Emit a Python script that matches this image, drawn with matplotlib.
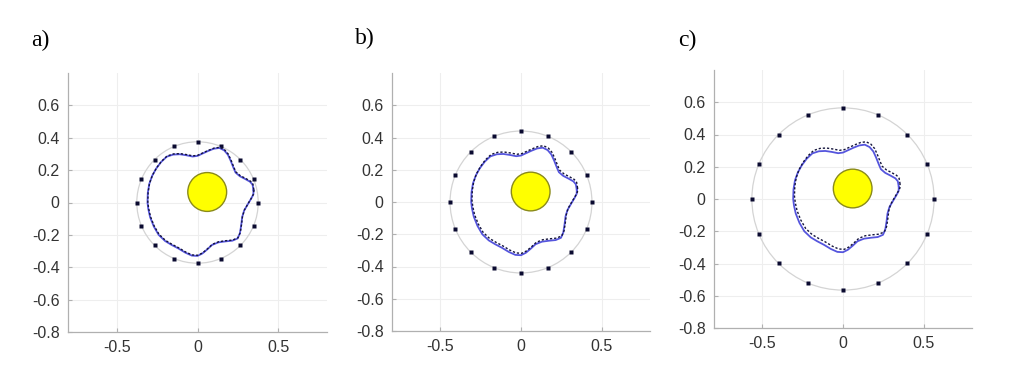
import numpy as np
import matplotlib.pyplot as plt
from matplotlib.patches import Circle

# panel labels
panels = ['a)', 'b)', 'c)']

# sensor ring radius per panel and sensor angles (deg)
ring_radius = [0.375, 0.44, 0.565]
sensor_angles = [0, 22.5, 45, 67.5, 90, 112.5, 135, 157.5,
                 180, 202.5, 225, 247.5, 270, 292.5, 315, 337.5]

# inclusion (yellow disc)
disc_x, disc_y, disc_r = 0.06, 0.065, 0.12

# boundary curve (solid, blue)
curve_x = [0.346, 0.340, 0.325, 0.295, 0.262, 0.235, 0.222, 0.205, 0.188, 0.165,
           0.135, 0.100, 0.065, 0.030, 0.000, -0.030, -0.070, -0.110, -0.150, -0.190,
           -0.225, -0.255, -0.280, -0.298, -0.307, -0.309, -0.304, -0.293, -0.270, -0.240,
           -0.200, -0.160, -0.118, -0.075, -0.035, 0.000, 0.030, 0.060, 0.090, 0.130,
           0.175, 0.215, 0.248, 0.262, 0.270, 0.276, 0.288, 0.310, 0.332, 0.345, 0.346]
curve_y = [0.075, 0.110, 0.128, 0.145, 0.162, 0.185, 0.215, 0.258, 0.295, 0.322,
           0.337, 0.332, 0.318, 0.302, 0.288, 0.284, 0.292, 0.298, 0.296, 0.283,
           0.250, 0.210, 0.165, 0.115, 0.060, 0.000, -0.040, -0.090, -0.148, -0.200,
           -0.238, -0.262, -0.284, -0.310, -0.328, -0.330, -0.315, -0.290, -0.262, -0.246,
           -0.240, -0.236, -0.222, -0.190, -0.140, -0.090, -0.050, -0.012, 0.025, 0.050, 0.075]

# dashed curve: same contour, displaced slightly per panel
dash_dx = [0.002, 0.005, 0.008]
dash_dy = [0.004, 0.012, 0.018]

xticks = [-0.5, 0, 0.5]
yticks = [-0.8, -0.6, -0.4, -0.2, 0, 0.2, 0.4, 0.6]

fig = plt.figure(figsize=(10.24, 3.66), dpi=100)
W, H = 1024, 366

# axes boxes in pixels: left, bottom (from top), size
boxes = [(68, 332, 259), (392, 331, 258), (714, 328, 258)]
label_pos = [(31, 40), (355, 38), (678, 40)]

cx = np.array(curve_x)
cy = np.array(curve_y)

for i in range(3):
    l, b, s = boxes[i]
    ax = fig.add_axes([l / W, (H - b) / H, s / W, s / H])
    ax.set_xlim(-0.8, 0.8)
    ax.set_ylim(-0.8, 0.8)
    ax.set_aspect('equal')
    ax.set_xticks(xticks)
    ax.set_xticklabels(['-0.5', '0', '0.5'])
    ax.set_yticks(yticks)
    ax.set_yticklabels(['-0.8', '-0.6', '-0.4', '-0.2', '0', '0.2', '0.4', '0.6'])
    ax.grid(True, color='#eeeeee', lw=0.8)
    ax.set_axisbelow(True)
    for sp in ['top', 'right']:
        ax.spines[sp].set_visible(False)
    for sp in ['left', 'bottom']:
        ax.spines[sp].set_color('#b0b0b0')
        ax.spines[sp].set_linewidth(0.9)
    ax.tick_params(direction='in', length=3, color='#b0b0b0',
                   labelsize=11.5, labelcolor='#333333', pad=6)
    for t in ax.get_xticklabels() + ax.get_yticklabels():
        t.set_family('Liberation Sans')

    r = ring_radius[i]
    ax.add_patch(Circle((0, 0), r, fill=False, ec='#d4d4d4', lw=0.9))
    th = np.deg2rad(sensor_angles)
    ax.plot(r * np.cos(th), r * np.sin(th), 's', ms=3, color='#0a0a30', mec='none')

    ax.add_patch(Circle((disc_x, disc_y), disc_r, fc='#ffff00', ec='#8a8a1a', lw=1))

    ax.plot(cx, cy, '-', color='#5555dd', lw=1.3)
    ax.plot(cx + dash_dx[i], cy + dash_dy[i], '--', color='#14143c', lw=1.0,
            dashes=(1.6, 1.4))

    fig.text(label_pos[i][0] / W, 1 - label_pos[i][1] / H, panels[i],
             family='Liberation Serif', fontsize=17, va='center', ha='left')

fig.savefig('out.png', dpi=100)
